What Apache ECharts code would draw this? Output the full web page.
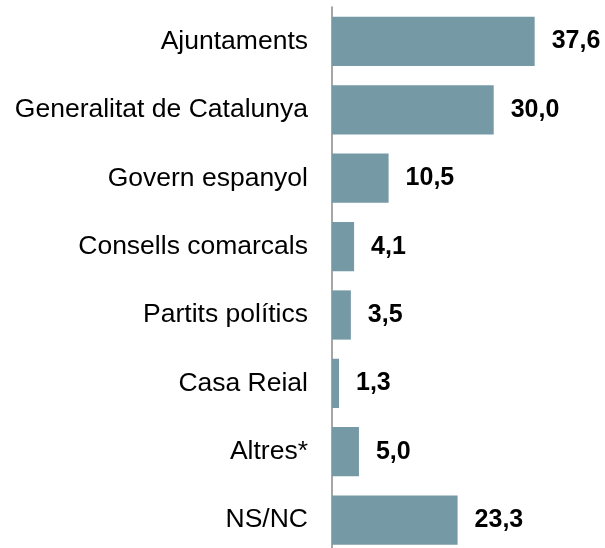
<!DOCTYPE html>
<html>
<head>
<meta charset="utf-8">
<script src="https://cdn.jsdelivr.net/npm/echarts@6/dist/echarts.min.js"></script>
<style>
  html, body { margin: 0; padding: 0; background: #fff; }
  #chart { width: 605px; height: 548px; }
</style>
</head>
<body>
<div id="chart"></div>
<script>
const categories = [
    'Ajuntaments',
    'Generalitat de Catalunya',
    'Govern espanyol',
    'Consells comarcals',
    'Partits polítics',
    'Casa Reial',
    'Altres*',
    'NS/NC'
]
const values = [37.6, 30.0, 10.5, 4.1, 3.5, 1.3, 5.0, 23.3]

const myChart = echarts.init(document.getElementById('chart'))
myChart.setOption({
    animation: false,
    grid: {
        left: 332,
        right: 3.5,
        top: 7.3,
        height: 547,
        outerBoundsMode: 'none'
    },
    xAxis: {
        type: 'value',
        min: 0,
        max: 50,
        show: false
    },
    yAxis: {
        type: 'category',
        data: categories,
        inverse: true,
        axisTick: { show: false },
        axisLine: {
            show: true,
            lineStyle: { color: '#a6a6a6', width: 2 }
        },
        axisLabel: {
            fontFamily: 'Liberation Sans',
            fontSize: 26.5,
            color: '#000',
            margin: 24
        }
    },
    series: [
        {
            type: 'bar',
            data: values,
            barCategoryGap: '28%',
            itemStyle: { color: '#759aa5' },
            label: {
                show: true,
                position: 'right',
                distance: 17,
                fontFamily: 'Liberation Sans',
                fontSize: 25,
                fontWeight: 'bold',
                color: '#000',
                formatter: p => p.value.toFixed(1).replace('.', ',')
            }
        }
    ]
})
</script>
</body>
</html>
